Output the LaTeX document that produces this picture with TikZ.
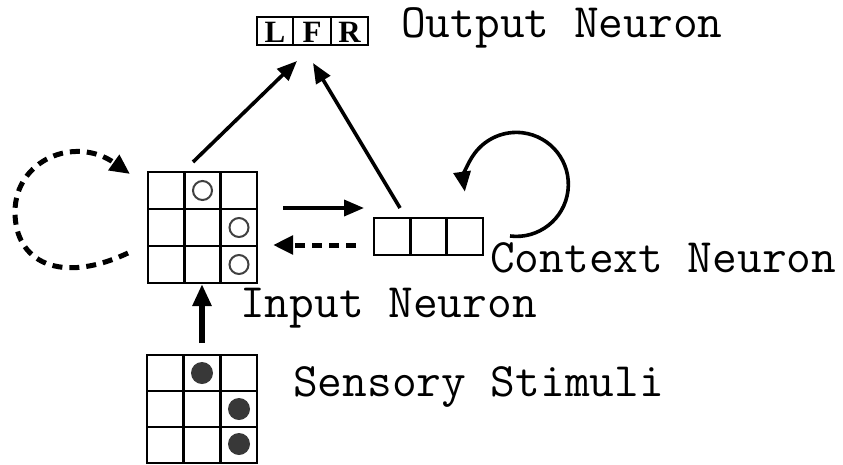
\documentclass[tikz,border=0pt]{standalone}
\usepackage{fontspec}
\usetikzlibrary{arrows.meta}
\newfontfamily\serifb{Liberation Serif}
\begin{document}
\begin{tikzpicture}[x=1pt,y=-1pt,
  gridbox/.style={draw, line width=2.8pt, inner sep=0pt},
  gline/.style={line width=2.8pt},
  lab/.style={font=\ttfamily\fontsize{48}{48}\selectfont, inner sep=0pt, anchor=base west},
  letter/.style={font=\serifb\bfseries\fontsize{31}{31}\selectfont, inner sep=0pt},
  conn/.style={line width=3.6pt, -{Triangle[length=20pt,width=16pt]}},
  dconn/.style={line width=5pt, dash pattern=on 10pt off 7pt, -{Triangle[length=20pt,width=18pt]}},
  ocirc/.style={draw=black!75, line width=2pt, circle, minimum size=19pt, inner sep=0pt},
  fdot/.style={fill=black!78, circle, minimum size=22pt, inner sep=0pt}
]
\useasboundingbox (0,0) rectangle (843,464);

% Output neuron
\node[gridbox, minimum width=111pt, minimum height=28pt] (out) at (312.5,31) {};
\draw[gline] (293,17) -- (293,45);
\draw[gline] (331,17) -- (331,45);
\node[letter] (oL) at (275,32) {L};
\node[letter] (oF) at (312,32) {F};
\node[letter] (oR) at (349.5,32) {R};
\node[lab] (outlab) at (401,37) {Output Neuron};

% Input neuron grid
\node[gridbox, minimum width=109pt, minimum height=111pt] (inp) at (202.5,227.5) {};
\draw[gline] (184.3,172) -- (184.3,283);
\draw[gline] (220.7,172) -- (220.7,283);
\draw[gline] (148,209) -- (257,209);
\draw[gline] (148,246) -- (257,246);
\node[ocirc] (c1) at (202.5,190.5) {};
\node[ocirc] (c2) at (239,227.5) {};
\node[ocirc] (c3) at (239,264.5) {};
\node[lab] (inlab) at (240,317) {Input Neuron};

% Context neuron
\node[gridbox, minimum width=109pt, minimum height=37pt] (ctx) at (428.5,236.5) {};
\draw[gline] (410.3,218) -- (410.3,255);
\draw[gline] (446.7,218) -- (446.7,255);
\node[lab] (ctxlab) at (490,272) {Context Neuron};

% Sensory grid
\node[gridbox, minimum width=110pt, minimum height=108pt] (sen) at (202,409) {};
\draw[gline] (183.7,355) -- (183.7,463);
\draw[gline] (220.3,355) -- (220.3,463);
\draw[gline] (147,391) -- (257,391);
\draw[gline] (147,427) -- (257,427);
\node[fdot] (d1) at (202,373) {};
\node[fdot] (d2) at (239,409) {};
\node[fdot] (d3) at (239,444) {};
\node[lab] (senlab) at (293,396) {Sensory Stimuli};

% connector end points
\coordinate (a1s) at (193,162);
\coordinate (a1e) at (297,61);
\coordinate (a2s) at (400,208);
\coordinate (a2e) at (313,63);
\coordinate (a3s) at (283,208);
\coordinate (a3e) at (364,208);
\coordinate (a4s) at (356,245);
\coordinate (a4e) at (273,245);
\coordinate (a5s) at (202,343);
\coordinate (a5e) at (202,284);
\coordinate (l1s) at (128,253);
\coordinate (l1e) at (130,174);
\coordinate (l2s) at (510,236);

\draw[conn] (a1s) -- (a1e);
\draw[conn] (a2s) -- (a2e);
\draw[conn] (a3s) -- (a3e);
\draw[dconn] (a4s) -- (a4e);
\draw[line width=6pt, -{Triangle[length=22pt,width=18pt]}] (a5s) -- (a5e);
\draw[dconn] (l1s) .. controls (60,285) and (15,262) .. (15,212)
   .. controls (15,160) and (75,135) .. (l1e);
\draw[line width=3.6pt, -{Triangle[length=20pt,width=17pt]}] (l2s) arc[start angle=-97, end angle=188, radius=52pt];
\end{tikzpicture}
\end{document}
